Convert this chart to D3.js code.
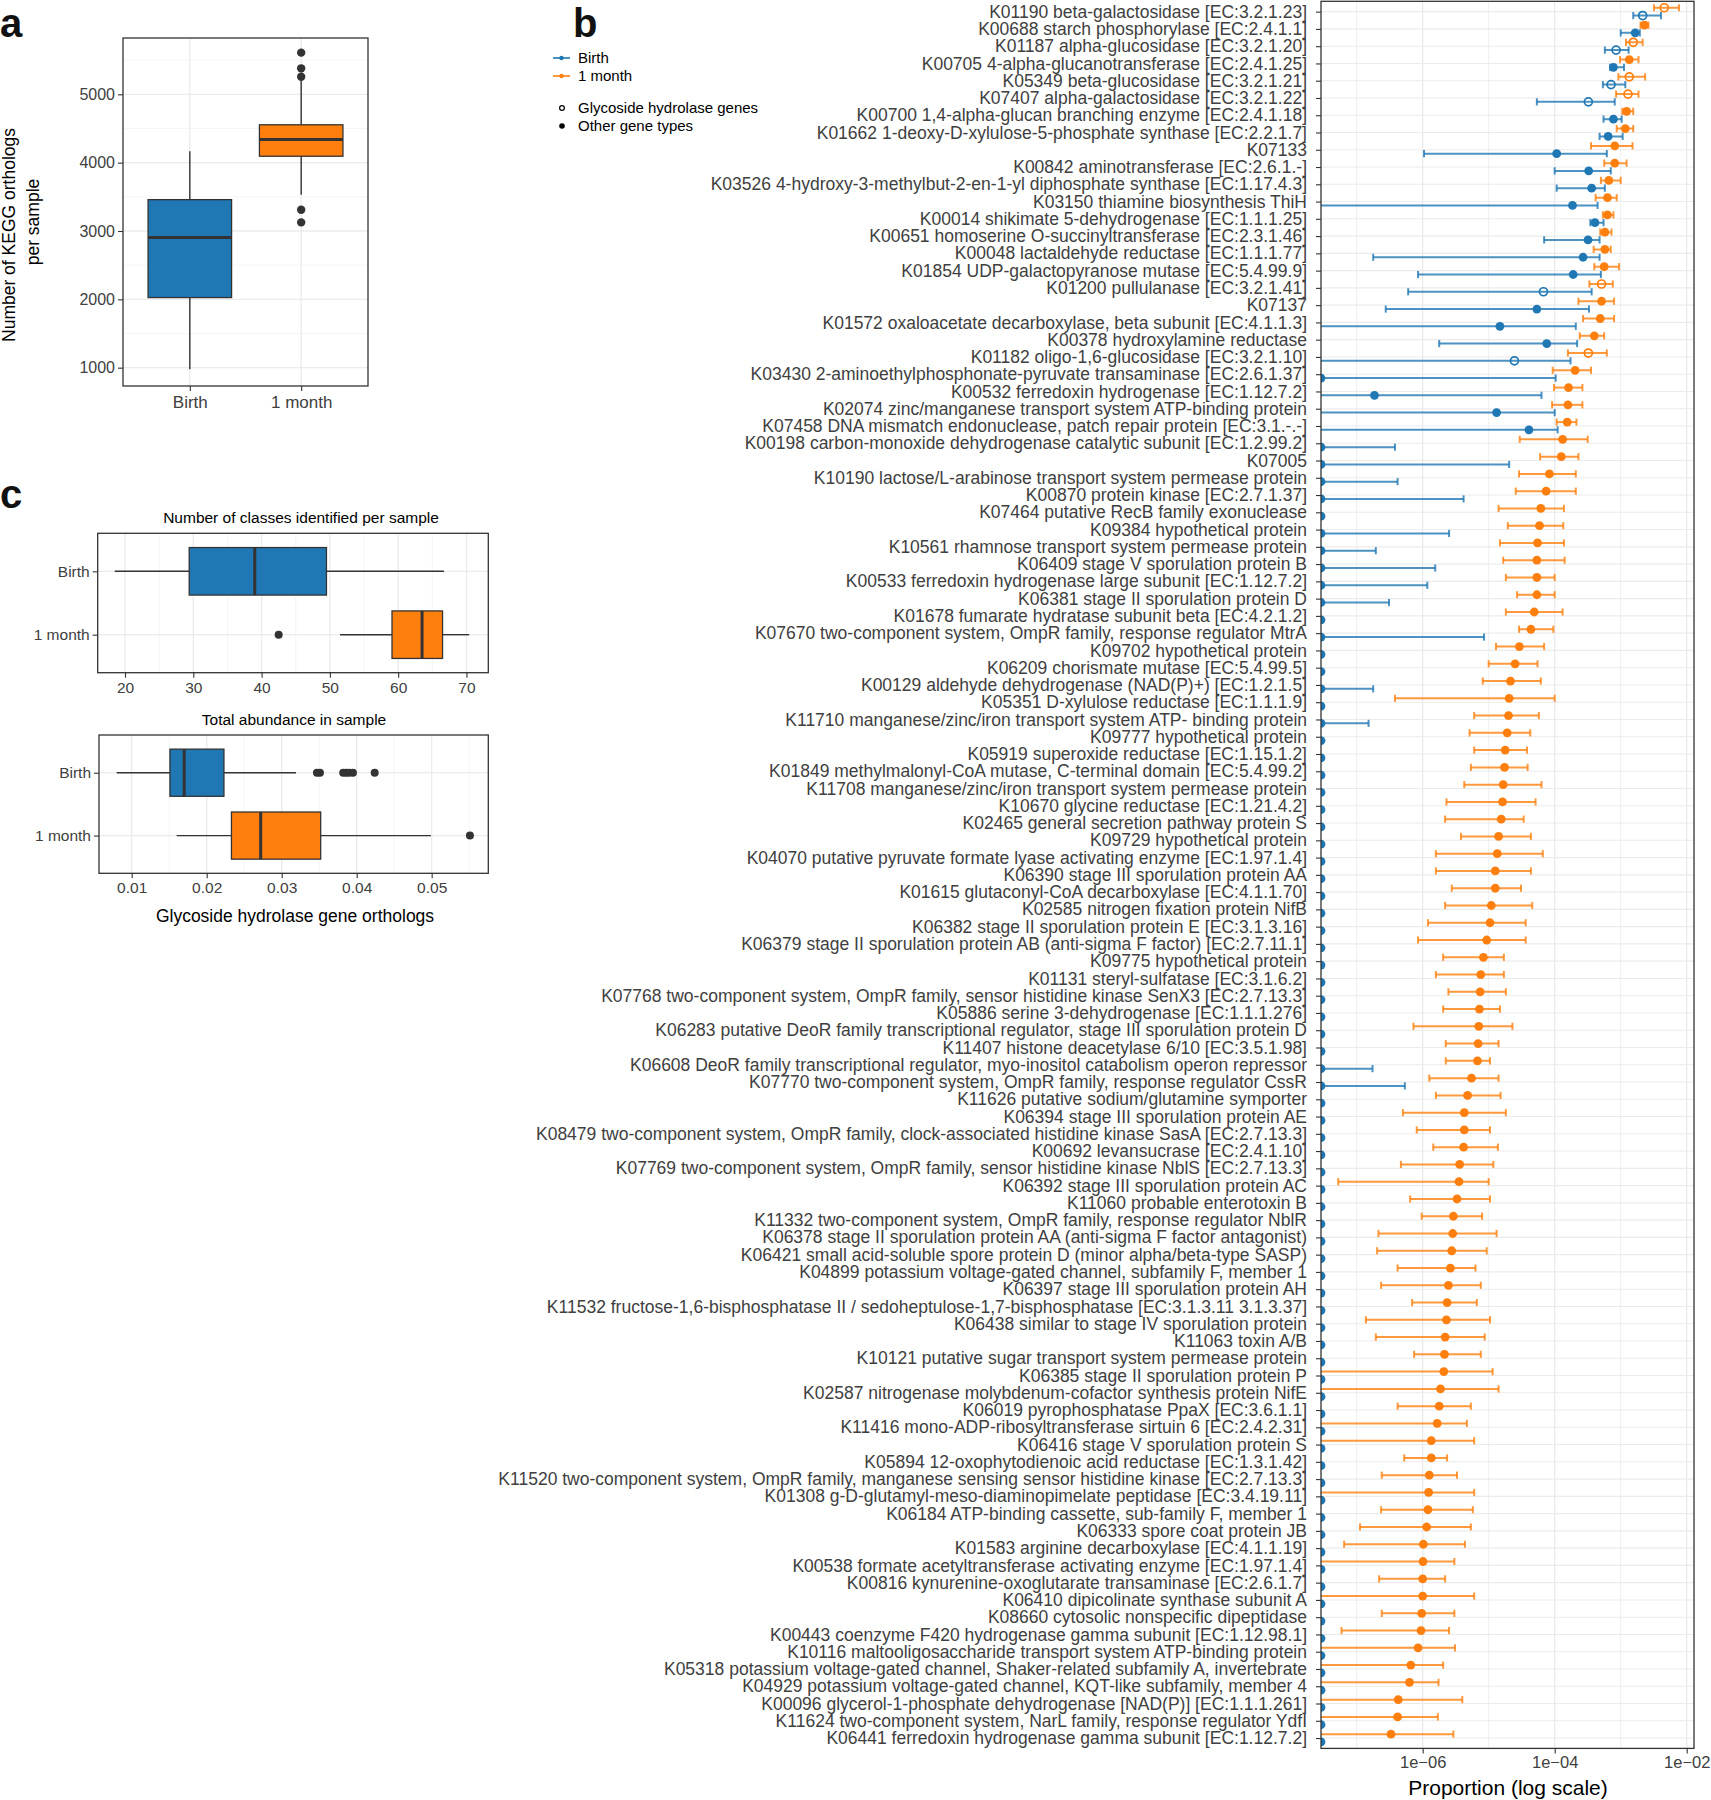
<!DOCTYPE html>
<html>
<head>
<meta charset="utf-8">
<script src="https://cdn.jsdelivr.net/npm/d3@7"></script>
<style>
  body { margin: 0; background: #fff; }
  svg text { font-family: "Liberation Sans", Arial, Helvetica, sans-serif; }
</style>
</head>
<body>
<div id="figure"></div>
<script>
// ---------- panel a : KEGG orthologs per sample ----------
var aGroups = ["Birth", "1 month"];
var aLowWhisker = [977, 3532];
var aQ1 = [2026, 4094];
var aMedian = [2906, 4339];
var aQ3 = [3459, 4554];
var aHighWhisker = [4167, 5194];
var aOutliers = [[], [5610, 5380, 5258, 3312, 3126]];
var aTicks = [1000, 2000, 3000, 4000, 5000];
var aMinorTicks = [1500, 2500, 3500, 4500, 5500];

// ---------- panel c : glycoside hydrolase orthologs ----------
var cGroups = ["Birth", "1 month"];
var classLowWhisker = [18.5, 51.5];
var classQ1 = [29.4, 59.1];
var classMedian = [39.0, 63.5];
var classQ3 = [49.5, 66.5];
var classHighWhisker = [66.7, 70.4];
var classOutliers = [[], [42.5]];
var classTicks = [20, 30, 40, 50, 60, 70];
var classMinorTicks = [25, 35, 45, 55, 65];

var abundLowWhisker = [0.0080, 0.0160];
var abundQ1 = [0.0151, 0.0233];
var abundMedian = [0.0170, 0.0272];
var abundQ3 = [0.0223, 0.0352];
var abundHighWhisker = [0.0319, 0.0499];
var abundOutliers = [[0.0347, 0.0351, 0.0382, 0.0386, 0.0390, 0.0395, 0.0424], [0.0551]];
var abundTicks = [0.01, 0.02, 0.03, 0.04, 0.05];
var abundMinorTicks = [0.015, 0.025, 0.035, 0.045, 0.055];

// ---------- panel b : KEGG orthologs, proportion (log10 values, null = zero) ----------
var koLabels = [
  "K01190 beta-galactosidase [EC:3.2.1.23]",
  "K00688 starch phosphorylase [EC:2.4.1.1]",
  "K01187 alpha-glucosidase [EC:3.2.1.20]",
  "K00705 4-alpha-glucanotransferase [EC:2.4.1.25]",
  "K05349 beta-glucosidase [EC:3.2.1.21]",
  "K07407 alpha-galactosidase [EC:3.2.1.22]",
  "K00700 1,4-alpha-glucan branching enzyme [EC:2.4.1.18]",
  "K01662 1-deoxy-D-xylulose-5-phosphate synthase [EC:2.2.1.7]",
  "K07133",
  "K00842 aminotransferase [EC:2.6.1.-]",
  "K03526 4-hydroxy-3-methylbut-2-en-1-yl diphosphate synthase [EC:1.17.4.3]",
  "K03150 thiamine biosynthesis ThiH",
  "K00014 shikimate 5-dehydrogenase [EC:1.1.1.25]",
  "K00651 homoserine O-succinyltransferase [EC:2.3.1.46]",
  "K00048 lactaldehyde reductase [EC:1.1.1.77]",
  "K01854 UDP-galactopyranose mutase [EC:5.4.99.9]",
  "K01200 pullulanase [EC:3.2.1.41]",
  "K07137",
  "K01572 oxaloacetate decarboxylase, beta subunit [EC:4.1.1.3]",
  "K00378 hydroxylamine reductase",
  "K01182 oligo-1,6-glucosidase [EC:3.2.1.10]",
  "K03430 2-aminoethylphosphonate-pyruvate transaminase [EC:2.6.1.37]",
  "K00532 ferredoxin hydrogenase [EC:1.12.7.2]",
  "K02074 zinc/manganese transport system ATP-binding protein",
  "K07458 DNA mismatch endonuclease, patch repair protein [EC:3.1.-.-]",
  "K00198 carbon-monoxide dehydrogenase catalytic subunit [EC:1.2.99.2]",
  "K07005",
  "K10190 lactose/L-arabinose transport system permease protein",
  "K00870 protein kinase [EC:2.7.1.37]",
  "K07464 putative RecB family exonuclease",
  "K09384 hypothetical protein",
  "K10561 rhamnose transport system permease protein",
  "K06409 stage V sporulation protein B",
  "K00533 ferredoxin hydrogenase large subunit [EC:1.12.7.2]",
  "K06381 stage II sporulation protein D",
  "K01678 fumarate hydratase subunit beta [EC:4.2.1.2]",
  "K07670 two-component system, OmpR family, response regulator MtrA",
  "K09702 hypothetical protein",
  "K06209 chorismate mutase [EC:5.4.99.5]",
  "K00129 aldehyde dehydrogenase (NAD(P)+) [EC:1.2.1.5]",
  "K05351 D-xylulose reductase [EC:1.1.1.9]",
  "K11710 manganese/zinc/iron transport system ATP- binding protein",
  "K09777 hypothetical protein",
  "K05919 superoxide reductase [EC:1.15.1.2]",
  "K01849 methylmalonyl-CoA mutase, C-terminal domain [EC:5.4.99.2]",
  "K11708 manganese/zinc/iron transport system permease protein",
  "K10670 glycine reductase [EC:1.21.4.2]",
  "K02465 general secretion pathway protein S",
  "K09729 hypothetical protein",
  "K04070 putative pyruvate formate lyase activating enzyme [EC:1.97.1.4]",
  "K06390 stage III sporulation protein AA",
  "K01615 glutaconyl-CoA decarboxylase [EC:4.1.1.70]",
  "K02585 nitrogen fixation protein NifB",
  "K06382 stage II sporulation protein E [EC:3.1.3.16]",
  "K06379 stage II sporulation protein AB (anti-sigma F factor) [EC:2.7.11.1]",
  "K09775 hypothetical protein",
  "K01131 steryl-sulfatase [EC:3.1.6.2]",
  "K07768 two-component system, OmpR family, sensor histidine kinase SenX3 [EC:2.7.13.3]",
  "K05886 serine 3-dehydrogenase [EC:1.1.1.276]",
  "K06283 putative DeoR family transcriptional regulator, stage III sporulation protein D",
  "K11407 histone deacetylase 6/10 [EC:3.5.1.98]",
  "K06608 DeoR family transcriptional regulator, myo-inositol catabolism operon repressor",
  "K07770 two-component system, OmpR family, response regulator CssR",
  "K11626 putative sodium/glutamine symporter",
  "K06394 stage III sporulation protein AE",
  "K08479 two-component system, OmpR family, clock-associated histidine kinase SasA [EC:2.7.13.3]",
  "K00692 levansucrase [EC:2.4.1.10]",
  "K07769 two-component system, OmpR family, sensor histidine kinase NblS [EC:2.7.13.3]",
  "K06392 stage III sporulation protein AC",
  "K11060 probable enterotoxin B",
  "K11332 two-component system, OmpR family, response regulator NblR",
  "K06378 stage II sporulation protein AA (anti-sigma F factor antagonist)",
  "K06421 small acid-soluble spore protein D (minor alpha/beta-type SASP)",
  "K04899 potassium voltage-gated channel, subfamily F, member 1",
  "K06397 stage III sporulation protein AH",
  "K11532 fructose-1,6-bisphosphatase II / sedoheptulose-1,7-bisphosphatase [EC:3.1.3.11 3.1.3.37]",
  "K06438 similar to stage IV sporulation protein",
  "K11063 toxin A/B",
  "K10121 putative sugar transport system permease protein",
  "K06385 stage II sporulation protein P",
  "K02587 nitrogenase molybdenum-cofactor synthesis protein NifE",
  "K06019 pyrophosphatase PpaX [EC:3.6.1.1]",
  "K11416 mono-ADP-ribosyltransferase sirtuin 6 [EC:2.4.2.31]",
  "K06416 stage V sporulation protein S",
  "K05894 12-oxophytodienoic acid reductase [EC:1.3.1.42]",
  "K11520 two-component system, OmpR family, manganese sensing sensor histidine kinase [EC:2.7.13.3]",
  "K01308 g-D-glutamyl-meso-diaminopimelate peptidase [EC:3.4.19.11]",
  "K06184 ATP-binding cassette, sub-family F, member 1",
  "K06333 spore coat protein JB",
  "K01583 arginine decarboxylase [EC:4.1.1.19]",
  "K00538 formate acetyltransferase activating enzyme [EC:1.97.1.4]",
  "K00816 kynurenine-oxoglutarate transaminase [EC:2.6.1.7]",
  "K06410 dipicolinate synthase subunit A",
  "K08660 cytosolic nonspecific dipeptidase",
  "K00443 coenzyme F420 hydrogenase gamma subunit [EC:1.12.98.1]",
  "K10116 maltooligosaccharide transport system ATP-binding protein",
  "K05318 potassium voltage-gated channel, Shaker-related subfamily A, invertebrate",
  "K04929 potassium voltage-gated channel, KQT-like subfamily, member 4",
  "K00096 glycerol-1-phosphate dehydrogenase [NAD(P)] [EC:1.1.1.261]",
  "K11624 two-component system, NarL family, response regulator YdfI",
  "K06441 ferredoxin hydrogenase gamma subunit [EC:1.12.7.2]"
];

// glycoside hydrolase genes (open symbols)
var ghGenes = ["K01190", "K01187", "K05349", "K07407", "K01200", "K01182"];

var monthMean = [
  -2.34, -2.64, -2.81, -2.87, -2.87, -2.89, -2.91, -2.93, -3.09, -3.09,
  -3.18, -3.20, -3.20, -3.24, -3.24, -3.25, -3.29, -3.29, -3.31, -3.40,
  -3.49, -3.69, -3.79, -3.80, -3.81, -3.88, -3.90, -4.08, -4.13, -4.21,
  -4.23, -4.26, -4.27, -4.27, -4.27, -4.31, -4.36, -4.535, -4.60, -4.67,
  -4.69, -4.70, -4.72, -4.75, -4.76, -4.78, -4.79, -4.81, -4.85, -4.87,
  -4.90, -4.90, -4.96, -4.98, -5.03, -5.08, -5.12, -5.13, -5.14, -5.15,
  -5.16, -5.17, -5.26, -5.32, -5.37, -5.37, -5.38, -5.44, -5.45, -5.48,
  -5.535, -5.545, -5.56, -5.58, -5.61, -5.63, -5.64, -5.66, -5.67, -5.68,
  -5.73, -5.75, -5.78, -5.87, -5.87, -5.90, -5.91, -5.92, -5.94, -5.99,
  -5.995, -6.00, -6.00, -6.015, -6.025, -6.07, -6.18, -6.20, -6.37, -6.38,
  -6.48
];
var monthLow = [
  -2.495, -2.70, -2.92, -3.01, -3.035, -3.07, -2.975, -3.06, -3.45, -3.25,
  -3.30, -3.38, -3.27, -3.31, -3.41, -3.40, -3.475, -3.64, -3.57, -3.62,
  -3.80, -4.03, -4.01, -4.04, -3.97, -4.53, -4.22, -4.54, -4.59, -4.85,
  -4.71, -4.83, -4.78, -4.74, -4.57, -4.74, -4.54, -4.89, -5.00, -5.09,
  -6.42, -5.22, -5.29, -5.22, -5.27, -5.37, -5.64, -5.66, -5.42, -5.80,
  -5.80, -5.56, -5.66, -5.92, -6.07, -5.69, -5.80, -5.61, -5.69, -6.14,
  -5.65, -5.65, -5.90, -5.80, -6.30, -6.09, -5.84, -6.33, -7.28, -6.19,
  -6.015, -6.67, -6.69, -6.38, -6.63, -6.16, -6.86, -6.71, -6.13, null,
  null, -6.38, null, null, -6.28, -6.62, null, -6.63, -6.95, -7.19,
  null, -6.66, null, -6.62, -7.23, null, null, null, null, null,
  null
];
var monthHigh = [
  -2.116, -2.58, -2.667, -2.73, -2.63, -2.73, -2.81, -2.81, -2.82, -2.91,
  -3.00, -3.06, -3.11, -3.14, -3.15, -3.025, -3.12, -3.10, -3.10, -3.25,
  -3.21, -3.45, -3.58, -3.58, -3.67, -3.50, -3.64, -3.68, -3.68, -3.86,
  -3.87, -3.86, -3.85, -4.00, -4.00, -3.88, -4.02, -4.16, -4.26, -4.21,
  -4.00, -4.24, -4.37, -4.42, -4.41, -4.20, -4.29, -4.47, -4.36, -4.18,
  -4.36, -4.51, -4.34, -4.44, -4.44, -4.77, -4.77, -4.74, -4.83, -4.64,
  -4.85, -4.98, -4.85, -4.82, -4.74, -4.98, -4.86, -4.93, -5.00, -4.98,
  -5.10, -4.88, -5.03, -5.20, -5.12, -5.18, -4.98, -5.06, -5.12, -4.94,
  -4.85, -5.27, -5.33, -5.22, -5.63, -5.48, -5.22, -5.24, -5.27, -5.36,
  -5.52, -5.66, -5.22, -5.52, -5.60, -5.51, -5.69, -5.76, -5.40, -5.77,
  -5.535
];

var birthMean = [
  -2.667, -2.78, -3.07, -3.11, -3.146, -3.49, -3.11, -3.19, -3.97, -3.485,
  -3.44, -3.73, -3.39, -3.495, -3.57, -3.72, -4.17, -4.27, -4.83, -4.12,
  -4.61, null, -6.73, -4.88, -4.39, null, null, null, null, null,
  null, null, null, null, null, null, null, null, null, null,
  null, null, null, null, null, null, null, null, null, null,
  null, null, null, null, null, null, null, null, null, null,
  null, null, null, null, null, null, null, null, null, null,
  null, null, null, null, null, null, null, null, null, null,
  null, null, null, null, null, null, null, null, null, null,
  null, null, null, null, null, null, null, null, null, null,
  null
];
var birthLow = [
  -2.81, -3.00, -3.24, -3.16, -3.27, -4.27, -3.26, -3.32, -5.98, -4.00,
  -3.97, null, -3.46, -4.16, -6.75, -6.07, -6.22, -6.56, null, -5.75,
  null, null, null, null, null, null, null, null, null, null,
  null, null, null, null, null, null, null, null, null, null,
  null, null, null, null, null, null, null, null, null, null,
  null, null, null, null, null, null, null, null, null, null,
  null, null, null, null, null, null, null, null, null, null,
  null, null, null, null, null, null, null, null, null, null,
  null, null, null, null, null, null, null, null, null, null,
  null, null, null, null, null, null, null, null, null, null,
  null
];
var birthHigh = [
  -2.39, -2.71, -2.88, -2.95, -2.93, -3.09, -2.985, -2.97, -3.21, -3.15,
  -3.24, -3.35, -3.26, -3.32, -3.32, -3.30, -3.44, -3.48, -3.68, -3.66,
  -3.76, -3.985, -4.20, -4.00, -3.955, -6.42, -4.69, -6.38, -5.38, null,
  -5.60, -6.71, -5.81, -5.93, -6.51, null, -5.07, null, null, -6.75,
  null, -6.82, null, null, null, null, null, null, null, null,
  null, null, null, null, null, null, null, null, null, null,
  null, -6.76, -6.27, null, null, null, null, null, null, null,
  null, null, null, null, null, null, null, null, null, null,
  null, null, null, null, null, null, null, null, null, null,
  null, null, null, null, null, null, null, null, null, null,
  null
];
var bTicks = [1e-6, 1e-4, 1e-2];
var bMinorTicks = [1e-7, 1e-5, 1e-3];
var shapeLegend = ["Glycoside hydrolase genes", "Other gene types"];

var cfg = {
  w: 1711,
  h: 1800,
  colors: ["#1F77B4", "#FF7F0E"],
  grid: "#EBEBEB",
  minorGrid: "#F3F3F3",
  border: "#333333",
  tickText: "#404040"
};

var svg = d3.select("#figure")
  .append("svg")
  .attr("width", cfg.w)
  .attr("height", cfg.h)
  .style("background", "#fff");

// panel letters
[["a", 0, 37], ["b", 573, 37], ["c", 0, 508]].forEach(function(p) {
  svg.append("text")
    .attr("x", p[1]).attr("y", p[2])
    .style("font-size", "40px")
    .style("font-weight", "bold")
    .attr("fill", "#111")
    .text(p[0]);
});

function styleAxis(g, size) {
  g.select(".domain").remove();
  g.selectAll(".tick line").attr("stroke", cfg.border).attr("stroke-width", 1.1);
  g.selectAll(".tick text")
    .attr("fill", cfg.tickText)
    .style("font-size", size + "px")
    .style("font-family", '"Liberation Sans", Arial, sans-serif');
}

// ======================= panel a =======================
var aBox = { x0: 123, x1: 368, y0: 38, y1: 386 };
var ya = d3.scaleLinear().domain([732, 5824]).range([aBox.y1, aBox.y0]);
var xa = d3.scalePoint().domain(aGroups).range([aBox.x0, aBox.x1]).padding(0.6);
var ga = svg.append("g").attr("id", "panel-a");

ga.selectAll(".minor").data(aMinorTicks).enter().append("line")
  .attr("x1", aBox.x0).attr("x2", aBox.x1)
  .attr("y1", function(d) { return ya(d); }).attr("y2", function(d) { return ya(d); })
  .attr("stroke", cfg.minorGrid).attr("stroke-width", 0.8);
ga.selectAll(".major").data(aTicks).enter().append("line")
  .attr("x1", aBox.x0).attr("x2", aBox.x1)
  .attr("y1", function(d) { return ya(d); }).attr("y2", function(d) { return ya(d); })
  .attr("stroke", cfg.grid).attr("stroke-width", 1.3);
ga.selectAll(".vgrid").data(aGroups).enter().append("line")
  .attr("x1", function(d) { return xa(d); }).attr("x2", function(d) { return xa(d); })
  .attr("y1", aBox.y0).attr("y2", aBox.y1)
  .attr("stroke", cfg.grid).attr("stroke-width", 1.3);

var aBw = xa.step() * 0.75;
aGroups.forEach(function(grp, i) {
  var cx = xa(grp);
  ga.append("line").attr("x1", cx).attr("x2", cx)
    .attr("y1", ya(aLowWhisker[i])).attr("y2", ya(aQ1[i]))
    .attr("stroke", cfg.border).attr("stroke-width", 1.4);
  ga.append("line").attr("x1", cx).attr("x2", cx)
    .attr("y1", ya(aQ3[i])).attr("y2", ya(aHighWhisker[i]))
    .attr("stroke", cfg.border).attr("stroke-width", 1.4);
  ga.append("rect")
    .attr("x", cx - aBw / 2).attr("width", aBw)
    .attr("y", ya(aQ3[i])).attr("height", ya(aQ1[i]) - ya(aQ3[i]))
    .attr("fill", cfg.colors[i]).attr("stroke", cfg.border).attr("stroke-width", 1.3);
  ga.append("line").attr("x1", cx - aBw / 2).attr("x2", cx + aBw / 2)
    .attr("y1", ya(aMedian[i])).attr("y2", ya(aMedian[i]))
    .attr("stroke", cfg.border).attr("stroke-width", 3);
  ga.selectAll(".out" + i).data(aOutliers[i]).enter().append("circle")
    .attr("cx", cx).attr("cy", function(d) { return ya(d); })
    .attr("r", 4.2).attr("fill", cfg.border);
});

ga.append("rect")
  .attr("x", aBox.x0).attr("y", aBox.y0)
  .attr("width", aBox.x1 - aBox.x0).attr("height", aBox.y1 - aBox.y0)
  .attr("fill", "none").attr("stroke", cfg.border).attr("stroke-width", 1.3);

var aLeft = ga.append("g").attr("transform", "translate(" + aBox.x0 + ",0)")
  .call(d3.axisLeft(ya).tickValues(aTicks).tickFormat(d3.format("d")).tickSize(5).tickPadding(3));
styleAxis(aLeft, 16);
var aBottom = ga.append("g").attr("transform", "translate(0," + aBox.y1 + ")")
  .call(d3.axisBottom(xa).tickSize(5).tickPadding(5));
styleAxis(aBottom, 17);

ga.append("text")
  .attr("transform", "translate(15,235) rotate(-90)")
  .attr("text-anchor", "middle")
  .style("font-size", "17.5px").attr("fill", "#000")
  .text("Number of KEGG orthologs");
ga.append("text")
  .attr("transform", "translate(39,222) rotate(-90)")
  .attr("text-anchor", "middle")
  .style("font-size", "17.5px").attr("fill", "#000")
  .text("per sample");

// ======================= panel c =======================
function hBoxPlot(opt) {
  var g = svg.append("g");
  var b = opt.box;
  var x = d3.scaleLinear().domain(opt.domain).range([b.x0, b.x1]);
  var y = d3.scalePoint().domain(cGroups).range([b.y0, b.y1]).padding(0.6);

  g.selectAll(".minor").data(opt.minor).enter().append("line")
    .attr("x1", function(d) { return x(d); }).attr("x2", function(d) { return x(d); })
    .attr("y1", b.y0).attr("y2", b.y1)
    .attr("stroke", cfg.minorGrid).attr("stroke-width", 0.8);
  g.selectAll(".major").data(opt.ticks).enter().append("line")
    .attr("x1", function(d) { return x(d); }).attr("x2", function(d) { return x(d); })
    .attr("y1", b.y0).attr("y2", b.y1)
    .attr("stroke", cfg.grid).attr("stroke-width", 1.3);
  g.selectAll(".hgrid").data(cGroups).enter().append("line")
    .attr("x1", b.x0).attr("x2", b.x1)
    .attr("y1", function(d) { return y(d); }).attr("y2", function(d) { return y(d); })
    .attr("stroke", cfg.grid).attr("stroke-width", 1.3);

  var bh = y.step() * 0.75;
  cGroups.forEach(function(grp, i) {
    var cy = y(grp);
    g.append("line").attr("y1", cy).attr("y2", cy)
      .attr("x1", x(opt.lw[i])).attr("x2", x(opt.q1[i]))
      .attr("stroke", cfg.border).attr("stroke-width", 1.4);
    g.append("line").attr("y1", cy).attr("y2", cy)
      .attr("x1", x(opt.q3[i])).attr("x2", x(opt.uw[i]))
      .attr("stroke", cfg.border).attr("stroke-width", 1.4);
    g.append("rect")
      .attr("y", cy - bh / 2).attr("height", bh)
      .attr("x", x(opt.q1[i])).attr("width", x(opt.q3[i]) - x(opt.q1[i]))
      .attr("fill", cfg.colors[i]).attr("stroke", cfg.border).attr("stroke-width", 1.3);
    g.append("line").attr("y1", cy - bh / 2).attr("y2", cy + bh / 2)
      .attr("x1", x(opt.med[i])).attr("x2", x(opt.med[i]))
      .attr("stroke", cfg.border).attr("stroke-width", 3);
    g.selectAll(".out" + i).data(opt.out[i]).enter().append("circle")
      .attr("cy", cy).attr("cx", function(d) { return x(d); })
      .attr("r", 4).attr("fill", cfg.border);
  });

  g.append("rect")
    .attr("x", b.x0).attr("y", b.y0)
    .attr("width", b.x1 - b.x0).attr("height", b.y1 - b.y0)
    .attr("fill", "none").attr("stroke", cfg.border).attr("stroke-width", 1.3);

  var left = g.append("g").attr("transform", "translate(" + b.x0 + ",0)")
    .call(d3.axisLeft(y).tickSize(5).tickPadding(3));
  styleAxis(left, 15.5);
  var bottom = g.append("g").attr("transform", "translate(0," + b.y1 + ")")
    .call(d3.axisBottom(x).tickValues(opt.ticks).tickSize(5).tickPadding(4).tickFormat(opt.fmt));
  styleAxis(bottom, 15.5);

  g.append("text")
    .attr("x", opt.titleX).attr("y", b.y0 - 10)
    .attr("text-anchor", "middle")
    .style("font-size", "15.5px").attr("fill", "#000")
    .text(opt.title);
  return g;
}

hBoxPlot({
  box: { x0: 97.7, x1: 488.3, y0: 533.3, y1: 672.7 },
  domain: [16.0, 73.2],
  ticks: classTicks, minor: classMinorTicks, fmt: d3.format("d"),
  lw: classLowWhisker, q1: classQ1, med: classMedian, q3: classQ3, uw: classHighWhisker, out: classOutliers,
  title: "Number of classes identified per sample", titleX: 301
});
var cBottom = hBoxPlot({
  box: { x0: 99, x1: 488.3, y0: 735, y1: 873.3 },
  domain: [0.00564, 0.05755],
  ticks: abundTicks, minor: abundMinorTicks, fmt: d3.format(".2f"),
  lw: abundLowWhisker, q1: abundQ1, med: abundMedian, q3: abundQ3, uw: abundHighWhisker, out: abundOutliers,
  title: "Total abundance in sample", titleX: 294
});
cBottom.append("text")
  .attr("x", 295).attr("y", 922)
  .attr("text-anchor", "middle")
  .style("font-size", "17.5px").attr("fill", "#000")
  .text("Glycoside hydrolase gene orthologs");

// ======================= panel b =======================
var bBox = { x0: 1321, x1: 1694, y0: 1.3, y1: 1748.4 };
var xb = d3.scaleLog().domain([2.88e-8, 1.29e-2]).range([bBox.x0, bBox.x1]).clamp(true);
var yb = d3.scalePoint().domain(koLabels).range([bBox.y0, bBox.y1]).padding(0.6);
var gb = svg.append("g").attr("id", "panel-b");

// zero values sit on the left edge of the panel
function xPos(lg) {
  return lg === null ? xb.range()[0] : xb(Math.pow(10, lg));
}

svg.append("defs").append("clipPath").attr("id", "clip-b")
  .append("rect")
  .attr("x", bBox.x0).attr("y", bBox.y0)
  .attr("width", bBox.x1 - bBox.x0).attr("height", bBox.y1 - bBox.y0);

gb.selectAll(".hgrid").data(koLabels).enter().append("line")
  .attr("x1", bBox.x0).attr("x2", bBox.x1)
  .attr("y1", function(d) { return yb(d); }).attr("y2", function(d) { return yb(d); })
  .attr("stroke", cfg.grid).attr("stroke-width", 1.1);
gb.selectAll(".minor").data(bMinorTicks).enter().append("line")
  .attr("x1", function(d) { return xb(d); }).attr("x2", function(d) { return xb(d); })
  .attr("y1", bBox.y0).attr("y2", bBox.y1)
  .attr("stroke", cfg.grid).attr("stroke-width", 0.8);
gb.selectAll(".major").data(bTicks).enter().append("line")
  .attr("x1", function(d) { return xb(d); }).attr("x2", function(d) { return xb(d); })
  .attr("y1", bBox.y0).attr("y2", bBox.y1)
  .attr("stroke", cfg.grid).attr("stroke-width", 1.3);

var series = [
  { name: "Birth", color: cfg.colors[0], mean: birthMean, low: birthLow, high: birthHigh, shift: 0.225 },
  { name: "1 month", color: cfg.colors[1], mean: monthMean, low: monthLow, high: monthHigh, shift: -0.225 }
];

var marks = gb.append("g").attr("clip-path", "url(#clip-b)");
var capH = 3.6;
series.forEach(function(s) {
  var gs = marks.append("g");
  koLabels.forEach(function(lab, i) {
    var cy = yb(lab) + s.shift * yb.step();
    var hollow = ghGenes.indexOf(lab.split(" ")[0]) >= 0;
    if (s.high[i] !== null) {
      var x1 = xPos(s.low[i]), x2 = xPos(s.high[i]);
      gs.append("line")
        .attr("x1", x1).attr("x2", x2).attr("y1", cy).attr("y2", cy)
        .attr("stroke", s.color).attr("stroke-width", 2).attr("stroke-opacity", 0.8);
      [s.low[i], s.high[i]].forEach(function(v) {
        if (v === null) return;
        gs.append("line")
          .attr("x1", xPos(v)).attr("x2", xPos(v))
          .attr("y1", cy - capH).attr("y2", cy + capH)
          .attr("stroke", s.color).attr("stroke-width", 2).attr("stroke-opacity", 0.8);
      });
    }
    gs.append("circle")
      .attr("cx", xPos(s.mean[i])).attr("cy", cy)
      .attr("r", hollow ? 4 : 4.4)
      .attr("fill", hollow ? "none" : s.color)
      .attr("stroke", s.color)
      .attr("stroke-width", hollow ? 1.7 : 0);
  });
});

gb.append("rect")
  .attr("x", bBox.x0).attr("y", bBox.y0)
  .attr("width", bBox.x1 - bBox.x0).attr("height", bBox.y1 - bBox.y0)
  .attr("fill", "none").attr("stroke", cfg.border).attr("stroke-width", 1.3);

var bLeft = gb.append("g").attr("transform", "translate(" + bBox.x0 + ",0)")
  .call(d3.axisLeft(yb).tickSize(5).tickPadding(9));
styleAxis(bLeft, 17.5);

var bBottom = gb.append("g").attr("transform", "translate(0," + bBox.y1 + ")")
  .call(d3.axisBottom(xb).tickValues(bTicks).tickSize(5).tickPadding(3)
    .tickFormat(function(d) {
      var e = Math.round(Math.log10(d));
      return "1e" + (e < 0 ? "\u2212" : "+") + String(Math.abs(e)).padStart(2, "0");
    }));
styleAxis(bBottom, 16.5);

gb.append("text")
  .attr("x", 1508).attr("y", 1795)
  .attr("text-anchor", "middle")
  .style("font-size", "21px").attr("fill", "#000")
  .text("Proportion (log scale)");

// legend
var lg = svg.append("g").attr("id", "legend-b");
series.forEach(function(s, i) {
  var ly = 58 + i * 18;
  lg.append("line").attr("x1", 553).attr("x2", 570).attr("y1", ly).attr("y2", ly)
    .attr("stroke", s.color).attr("stroke-width", 1.6);
  lg.append("circle").attr("cx", 561.5).attr("cy", ly).attr("r", 2.2).attr("fill", s.color);
  lg.append("text").attr("x", 578).attr("y", ly).attr("dy", "0.35em")
    .style("font-size", "15px").attr("fill", "#000").text(s.name);
});
shapeLegend.forEach(function(t, i) {
  var ly = 108 + i * 18;
  lg.append("circle").attr("cx", 562).attr("cy", ly)
    .attr("r", i === 0 ? 2.4 : 2.8)
    .attr("fill", i === 0 ? "none" : "#000")
    .attr("stroke", "#000").attr("stroke-width", i === 0 ? 1.2 : 0);
  lg.append("text").attr("x", 578).attr("y", ly).attr("dy", "0.35em")
    .style("font-size", "15px").attr("fill", "#000").text(t);
});
</script>
</body>
</html>
